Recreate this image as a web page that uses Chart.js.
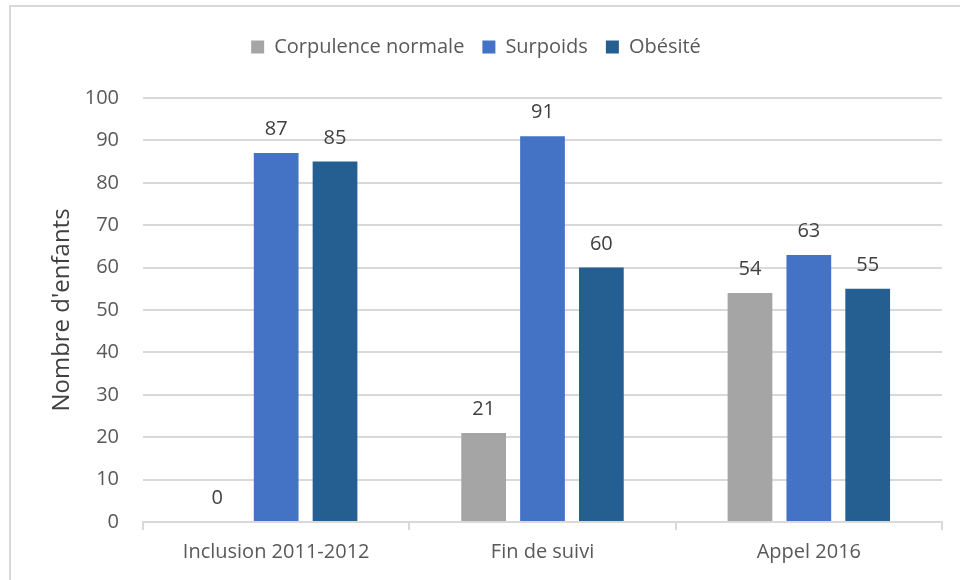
<!DOCTYPE html>
<html><head><meta charset="utf-8">
<script src="https://cdn.jsdelivr.net/npm/chart.js@4.4.0/dist/chart.umd.min.js"></script>
<style>
html,body{margin:0;padding:0;background:#fff;overflow:hidden}
#wrap{position:relative;width:960px;height:580px}
#frame{position:absolute;left:9px;top:5px;width:1000px;height:1000px;border:2px solid #d9d9d9;box-sizing:border-box}
canvas{position:absolute;left:0;top:0}
</style></head><body>
<div id="wrap"><div id="frame"></div><canvas id="c" width="960" height="580"></canvas></div>
<script>
const categories = ["Inclusion 2011-2012", "Fin de suivi", "Appel 2016"];
const corpulenceNormale = [0, 21, 54];
const surpoids = [87, 91, 63];
const obesite = [85, 60, 55];
const seriesNames = ["Corpulence normale", "Surpoids", "Obésité"];
const yTicks = {min: 0, max: 100, step: 10};
const axisTitle = "Nombre d'enfants";

const FONT = "'Open Sans', sans-serif";
const TXT = '#595959';

const valueLabels = {
  id: 'valueLabels',
  afterDatasetsDraw(chart) {
    const ctx = chart.ctx;
    ctx.save();
    ctx.font = '20px ' + FONT;
    ctx.fillStyle = '#404040';
    ctx.textAlign = 'center';
    ctx.textBaseline = 'alphabetic';
    chart.data.datasets.forEach((ds, i) => {
      const meta = chart.getDatasetMeta(i);
      meta.data.forEach((bar, j) => {
        ctx.fillText(String(ds.data[j]), bar.x, bar.y - 18);
      });
    });
    ctx.restore();
  }
};

const legendGap = {
  id: 'legendGap',
  beforeUpdate(chart) {
    const lg = chart.legend;
    if (lg && !lg._gapPatched) {
      const fit = lg.fit;
      lg.fit = function () { fit.call(this); this.height += 31; };
      lg._gapPatched = true;
    }
  }
};

new Chart(document.getElementById('c'), {
  type: 'bar',
  data: {
    labels: categories,
    datasets: [
      {label: seriesNames[0], data: corpulenceNormale, backgroundColor: '#A5A5A5'},
      {label: seriesNames[1], data: surpoids, backgroundColor: '#4472C4'},
      {label: seriesNames[2], data: obesite, backgroundColor: '#255E91'}
    ]
  },
  options: {
    responsive: false,
    animation: false,
    events: [],
    layout: {padding: {left: 10, right: 18, top: 19, bottom: 6}},
    datasets: {bar: {categoryPercentage: 0.663, barPercentage: 0.76}},
    plugins: {
      legend: {
        position: 'top',
        labels: {
          boxWidth: 13, boxHeight: 13, color: TXT, padding: 18,
          font: {family: FONT, size: 20}
        }
      },
      tooltip: {enabled: false}
    },
    scales: {
      x: {
        grid: {offset: true, drawOnChartArea: false, drawTicks: true, tickLength: 8, color: '#d9d9d9', lineWidth: 2},
        border: {color: '#d9d9d9', width: 2},
        ticks: {color: TXT, font: {family: FONT, size: 20}, padding: 10}
      },
      y: {
        min: yTicks.min, max: yTicks.max,
        afterFit(s) { s.width = 133; },
        grid: {color: '#d9d9d9', lineWidth: 2, drawTicks: false},
        border: {display: false},
        ticks: {stepSize: yTicks.step, color: TXT, font: {family: FONT, size: 20}, padding: 24},
        title: {display: true, text: axisTitle, color: '#404040', font: {family: FONT, size: 24}, padding: {top: 38, bottom: 0}}
      }
    }
  },
  plugins: [valueLabels, legendGap]
});
</script>
</body></html>
